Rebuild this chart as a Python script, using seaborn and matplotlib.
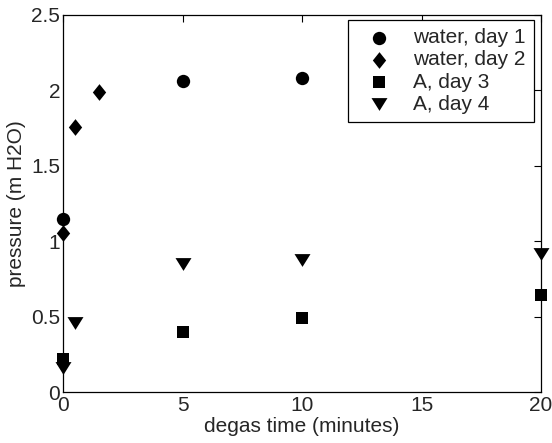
import matplotlib
matplotlib.use("Agg")
import matplotlib.pyplot as plt
import seaborn as sns
import pandas as pd
import numpy as np

# data
water_day1_t = [0, 5, 10]
water_day1_p = [1.145, 2.065, 2.085]
water_day2_t = [0, 0.5, 1.5]
water_day2_p = [1.055, 1.76, 1.99]
a_day3_t = [0, 5, 10, 20]
a_day3_p = [0.22, 0.395, 0.49, 0.64]
a_day4_t = [0, 0.5, 5, 10, 20]
a_day4_p = [0.16, 0.455, 0.85, 0.875, 0.915]

series = ["water, day 1", "water, day 2", "A, day 3", "A, day 4"]
frames = []
for name, t, p in zip(series,
                      [water_day1_t, water_day2_t, a_day3_t, a_day4_t],
                      [water_day1_p, water_day2_p, a_day3_p, a_day4_p]):
    frames.append(pd.DataFrame({"t": t, "p": p, "series": name}))
df = pd.concat(frames, ignore_index=True)

sns.set_style("white")
plt.rcParams["font.family"] = ["Liberation Sans", "DejaVu Sans"]
plt.rcParams["xtick.direction"] = "in"
plt.rcParams["ytick.direction"] = "in"

W, H = 552, 443
fig = plt.figure(figsize=(W / 100, H / 100), dpi=100)
left, right, top, bottom = 63, 541, 15, 392
ax = fig.add_axes([left / W, 1 - bottom / H, (right - left) / W, (bottom - top) / H])

# MATLAB-like marker shapes
diamond = np.array([(0, 1), (0.8, 0), (0, -1), (-0.8, 0), (0, 1)])
tri_down = np.array([(-1, 0.8), (1, 0.8), (0, -0.8), (-1, 0.8)])
markers = {"water, day 1": "o", "water, day 2": diamond, "A, day 3": "s", "A, day 4": tri_down}
sizes_pt = {"water, day 1": 9.6, "water, day 2": 12.0, "A, day 3": 8.4, "A, day 4": 11.5}

for name in series:
    sub = df[df["series"] == name]
    sns.scatterplot(data=sub, x="t", y="p", marker=markers[name], color="black",
                    s=sizes_pt[name] ** 2, linewidth=0, ax=ax, label=name,
                    clip_on=False, zorder=3)

FS = 15
ax.set_xlim(0, 20)
ax.set_ylim(0, 2.5)
ax.set_xticks([0, 5, 10, 15, 20])
ax.set_yticks([0, 0.5, 1, 1.5, 2, 2.5])
ax.set_yticklabels(["0", "0.5", "1", "1.5", "2", "2.5"])
ax.tick_params(axis="both", which="both", labelsize=FS, length=5, width=0.8,
               top=True, right=True, color="black")
ax.tick_params(axis="x", pad=3)
ax.tick_params(axis="y", pad=2)
for sp in ax.spines.values():
    sp.set_color("black")
    sp.set_linewidth(0.9)
ax.set_xlabel("degas time (minutes)", fontsize=FS, labelpad=1)
ax.set_ylabel("pressure (m H2O)", fontsize=FS, labelpad=4)

aw, ah = right - left, bottom - top
leg = ax.legend(loc="upper right", bbox_to_anchor=(1 - 7 / aw, 1 - 5 / ah),
                borderaxespad=0, fontsize=FS, frameon=True, fancybox=False,
                edgecolor="black", handletextpad=0.55, labelspacing=0.15,
                borderpad=0.4, handlelength=2.2)
leg.get_frame().set_linewidth(0.9)
leg.get_frame().set_alpha(1)

fig.savefig("out.png", dpi=100)
